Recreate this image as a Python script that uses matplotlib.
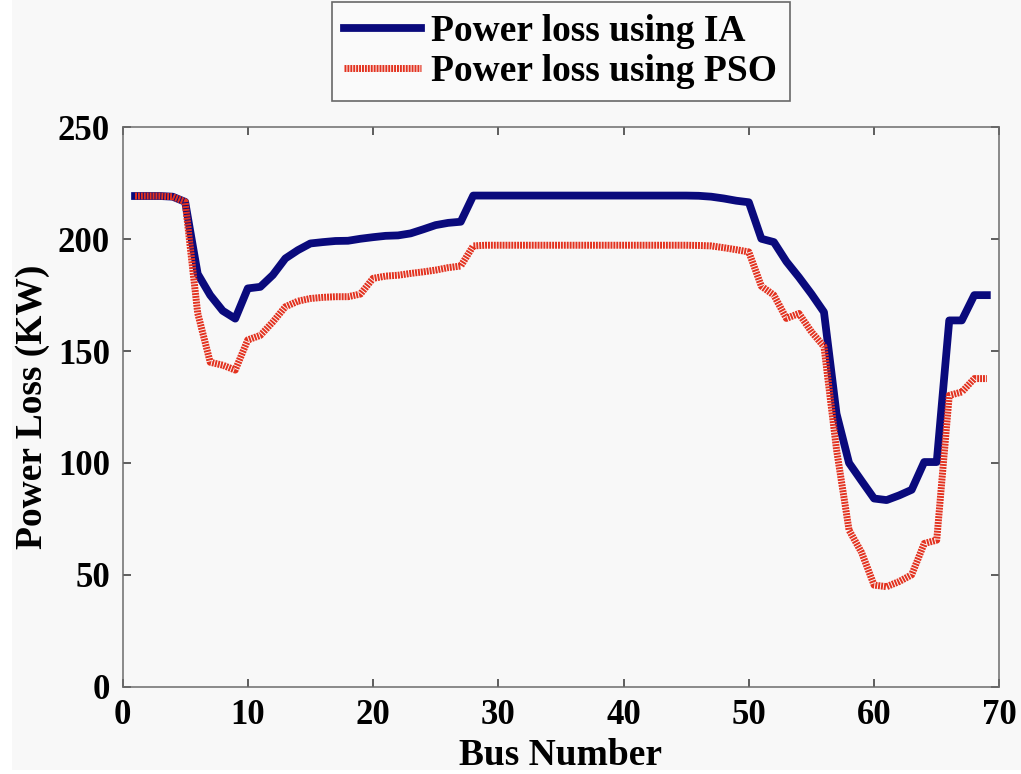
import matplotlib
matplotlib.use("Agg")
import matplotlib.pyplot as plt
from matplotlib.patches import Rectangle

plt.rcParams['font.family'] = ['Liberation Serif', 'DejaVu Serif']
plt.rcParams['font.weight'] = 'bold'

# Bus numbers and power loss (kW) for each method
bus = list(range(1, 70))

loss_ia = [
    219.3, 219.3, 219.3, 219.0, 216.7, 184.5, 175.0, 168.0, 164.5, 178.0,
    178.7, 184.0, 191.4, 195.1, 198.1, 198.7, 199.2, 199.3, 200.2, 200.9,
    201.5, 201.7, 202.6, 204.4, 206.3, 207.3, 207.8, 219.5, 219.5, 219.5,
    219.5, 219.5, 219.5, 219.5, 219.5, 219.5, 219.5, 219.5, 219.5, 219.5,
    219.5, 219.5, 219.5, 219.5, 219.5, 219.4, 219.0, 218.2, 217.2, 216.5,
    200.2, 198.7, 190.0, 183.0, 175.5, 167.4, 122.0, 100.0, 92.0, 84.1,
    83.4, 85.5, 88.0, 100.4, 100.4, 163.7, 163.7, 175.0, 175.0,
]

loss_pso = [
    219.3, 219.3, 219.3, 219.0, 216.7, 167.0, 145.0, 143.7, 141.5, 155.0,
    157.0, 163.0, 169.8, 172.3, 173.5, 174.0, 174.3, 174.3, 175.5, 182.5,
    183.5, 183.9, 184.7, 185.4, 186.2, 187.3, 188.0, 197.0, 197.3, 197.3,
    197.3, 197.3, 197.3, 197.3, 197.3, 197.3, 197.3, 197.3, 197.3, 197.3,
    197.3, 197.3, 197.3, 197.3, 197.3, 197.2, 197.0, 196.2, 195.3, 194.3,
    179.0, 175.0, 164.6, 166.8, 158.6, 152.0, 106.0, 70.0, 60.0, 45.4,
    44.7, 47.0, 50.0, 64.0, 65.5, 130.2, 131.7, 137.7, 137.7,
]

fig = plt.figure(figsize=(10.21, 7.74), dpi=100, facecolor='white')
# light grey page behind the plot
fig.patches.append(Rectangle((12 / 1021, 4 / 774), 1, 1, transform=fig.transFigure,
                             facecolor='#f8f8f8', edgecolor='none', zorder=-10))

ax = fig.add_axes([0.120, 0.1128, 0.8588, 0.7227])
ax.set_facecolor('none')

ax.plot(bus, loss_ia, color='#0a0a7c', linewidth=5.6, solid_joinstyle='round',
        label='Power loss using IA')
ax.plot(bus, loss_pso, color='#e3321f', linewidth=5.0, linestyle=(0, (0.28, 0.14)),
        dash_joinstyle='round', label='Power loss using PSO')

ax.set_xlim(0, 70)
ax.set_ylim(0, 250)
ax.set_xticks(range(0, 71, 10))
ax.set_yticks(range(0, 251, 50))

for s in ax.spines.values():
    s.set_color('#6c6c6c')
    s.set_linewidth(1.1)
ax.tick_params(direction='in', length=6, width=1.1, color='#333333',
               top=True, right=True, labelsize=25, pad=9)

ax.set_xlabel('Bus Number', fontsize=27, fontweight='bold', labelpad=4)
ax.set_ylabel('Power Loss (KW)', fontsize=27, fontweight='bold', labelpad=6)

leg = ax.legend(loc='upper center', bbox_to_anchor=(0.5, 1.224), fontsize=27,
                frameon=True, fancybox=False, handlelength=2.05, handletextpad=0.27,
                labelspacing=0.12, borderpad=0.33, borderaxespad=0)
leg.get_frame().set_edgecolor('#444444')
leg.get_frame().set_linewidth(1.2)
leg.get_frame().set_facecolor('#fbfbfb')

fig.savefig('out.png', dpi=100, facecolor=fig.get_facecolor())
